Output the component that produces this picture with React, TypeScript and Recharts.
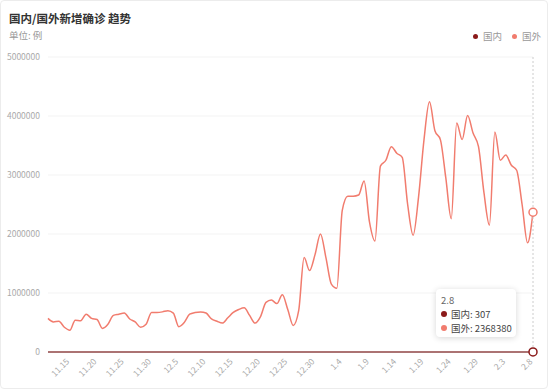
import { CartesianGrid, Line, LineChart, Tooltip, XAxis, YAxis } from 'recharts';

const dates = [
  '11.11', '11.12', '11.13', '11.14', '11.15', '11.16', '11.17', '11.18', '11.19', '11.20',
  '11.21', '11.22', '11.23', '11.24', '11.25', '11.26', '11.27', '11.28', '11.29', '11.30',
  '12.1', '12.2', '12.3', '12.4', '12.5', '12.6', '12.7', '12.8', '12.9', '12.10',
  '12.11', '12.12', '12.13', '12.14', '12.15', '12.16', '12.17', '12.18', '12.19', '12.20',
  '12.21', '12.22', '12.23', '12.24', '12.25', '12.26', '12.27', '12.28', '12.29', '12.30',
  '12.31', '1.1', '1.2', '1.3', '1.4', '1.5', '1.6', '1.7', '1.8', '1.9',
  '1.10', '1.11', '1.12', '1.13', '1.14', '1.15', '1.16', '1.17', '1.18', '1.19',
  '1.20', '1.21', '1.22', '1.23', '1.24', '1.25', '1.26', '1.27', '1.28', '1.29',
  '1.30', '1.31', '2.1', '2.2', '2.3', '2.4', '2.5', '2.6', '2.7', '2.8'
];

// 国内 new cases
const domestic = [
  8, 11, 9, 5, 10, 14, 17, 12, 16, 13,
  11, 18, 22, 20, 15, 14, 12, 9, 11, 10,
  12, 14, 18, 23, 20, 17, 15, 16, 21, 19,
  24, 20, 22, 25, 27, 23, 20, 19, 33, 42,
  37, 45, 51, 55, 60, 63, 85, 110, 96, 92,
  88, 90, 103, 126, 138, 144, 170, 185, 160, 141,
  152, 177, 198, 213, 231, 205, 240, 224, 198, 210,
  236, 250, 218, 230, 262, 245, 270, 281, 256, 243,
  266, 290, 301, 275, 288, 296, 312, 298, 284, 307
];

// 国外 new cases
const foreign = [
  570000, 510000, 520000, 420000, 370000, 540000, 530000, 640000, 570000, 550000,
  400000, 470000, 620000, 640000, 660000, 560000, 510000, 420000, 470000, 670000,
  670000, 680000, 700000, 660000, 430000, 500000, 640000, 670000, 680000, 660000,
  560000, 520000, 490000, 580000, 670000, 720000, 750000, 620000, 490000, 600000,
  840000, 880000, 820000, 970000, 720000, 450000, 700000, 1600000, 1380000, 1650000,
  2000000, 1600000, 1150000, 1080000, 2400000, 2640000, 2640000, 2660000, 2900000, 2200000,
  1880000, 3150000, 3250000, 3480000, 3370000, 3300000, 2500000, 1980000, 2630000, 3600000,
  4240000, 3750000, 3600000, 2950000, 2260000, 3880000, 3600000, 4010000, 3710000, 3480000,
  2700000, 2150000, 3730000, 3250000, 3340000, 3170000, 3080000, 2500000, 1850000, 2368380
];

const xTicks = [
  '11.15', '11.20', '11.25', '11.30', '12.5', '12.10', '12.15', '12.20', '12.25', '12.30',
  '1.4', '1.9', '1.14', '1.19', '1.24', '1.29', '2.3', '2.8'
];
const yTicks = [0, 1000000, 2000000, 3000000, 4000000, 5000000];

const DOMESTIC_COLOR = '#8b1a1a';
const FOREIGN_COLOR = '#f17c6e';
const FONT = '"Noto Sans CJK SC", "Noto Sans", sans-serif';

const data = dates.map((date, i) => ({ date, domestic: domestic[i], foreign: foreign[i] }));

function DateTick({ x, y, payload }: any) {
  return (
    <text
      x={x - 2}
      y={y}
      dy={3}
      textAnchor="end"
      transform={`rotate(-45 ${x - 2} ${y})`}
      fontSize={8.5}
      fill="#aaa"
      fontFamily={FONT}
    >
      {payload.value}
    </text>
  );
}

function TipBox({ active, payload, label }: any) {
  if (!active || !payload || payload.length === 0) return null;
  return (
    <div
      style={{
        width: 80,
        height: 48,
        boxSizing: 'border-box',
        background: '#fff',
        borderRadius: 4,
        boxShadow: '0 1px 6px rgba(0,0,0,0.16)',
        padding: '4px 0 0 5px',
        fontSize: 9.5,
        lineHeight: '14px',
        color: '#444',
        fontFamily: FONT,
        whiteSpace: 'nowrap'
      }}
    >
      <div style={{ color: '#666' }}>{label}</div>
      {payload.map((p: any) => (
        <div key={p.dataKey}>
          <span
            style={{
              display: 'inline-block',
              width: 6,
              height: 6,
              borderRadius: 3,
              background: p.color,
              marginRight: 4,
              verticalAlign: 'middle',
              position: 'relative',
              top: -1
            }}
          />
          {p.name}: {p.value}
        </div>
      ))}
    </div>
  );
}

export default function App() {
  return (
    <div style={{ position: 'absolute', left: 0, top: 0, width: 550, height: 391, fontFamily: FONT }}>
      <div
        style={{
          position: 'absolute',
          left: 0,
          top: 0,
          width: 548,
          height: 389,
          boxSizing: 'border-box',
          border: '1px solid #ececec',
          borderRadius: 4
        }}
      />
      <div style={{ position: 'absolute', left: 9, top: 10, fontSize: 11.5, fontWeight: 700, color: '#333', lineHeight: '16px' }}>
        国内/国外新增确诊 趋势
      </div>
      <div style={{ position: 'absolute', left: 9, top: 28, fontSize: 9.5, color: '#999', lineHeight: '14px' }}>
        单位: 例
      </div>
      <div style={{ position: 'absolute', left: 473, top: 29, fontSize: 9.5, color: '#999', lineHeight: '14px', display: 'flex', gap: 10 }}>
        {[
          { name: '国内', color: DOMESTIC_COLOR },
          { name: '国外', color: FOREIGN_COLOR }
        ].map((item) => (
          <span key={item.name} style={{ display: 'flex', alignItems: 'center' }}>
            <span style={{ width: 5, height: 5, borderRadius: 3, background: item.color, marginRight: 5 }} />
            {item.name}
          </span>
        ))}
      </div>
      <div style={{ position: 'absolute', left: 0, top: 0 }}>
        <LineChart width={550} height={391} data={data} margin={{ top: 57, right: 17, bottom: 9, left: 8 }}>
          <CartesianGrid stroke="#f3f3f3" vertical={false} />
          <XAxis
            dataKey="date"
            ticks={xTicks}
            interval={0}
            height={30}
            tickLine={false}
            axisLine={{ stroke: '#ccc' }}
            tick={<DateTick />}
          />
          <YAxis
            width={40}
            domain={[0, 5000000]}
            ticks={yTicks}
            axisLine={false}
            tickLine={false}
            tick={{ fontSize: 8.5, fill: '#aaa', fontFamily: FONT }}
          />
          <Tooltip
            defaultIndex={89}
            position={{ x: 436, y: 289 }}
            cursor={{ stroke: '#ccc', strokeDasharray: '2 2', strokeWidth: 1 }}
            content={<TipBox />}
            isAnimationActive={false}
          />
          <Line
            dataKey="domestic"
            name="国内"
            type="monotone"
            stroke={DOMESTIC_COLOR}
            strokeWidth={2}
            dot={false}
            activeDot={{ r: 4, fill: '#fff', stroke: DOMESTIC_COLOR, strokeWidth: 1.5 }}
            isAnimationActive={false}
          />
          <Line
            dataKey="foreign"
            name="国外"
            type="monotone"
            stroke={FOREIGN_COLOR}
            strokeWidth={1.5}
            dot={false}
            activeDot={{ r: 4, fill: '#fff', stroke: FOREIGN_COLOR, strokeWidth: 1.5 }}
            isAnimationActive={false}
          />
        </LineChart>
      </div>
    </div>
  );
}
